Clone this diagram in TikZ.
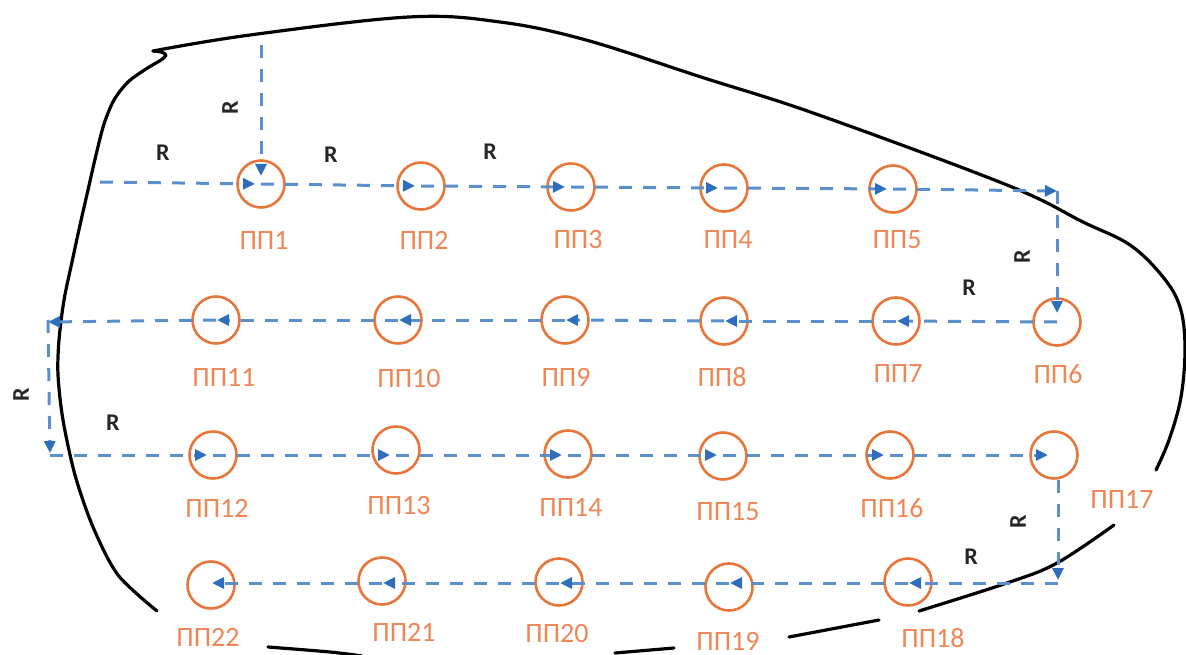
\documentclass[tikz,border=0pt]{standalone}
\usepackage{fontspec}
\setmainfont{Carlito}
\usetikzlibrary{arrows.meta}
\definecolor{pporange}{HTML}{E8763A}
\definecolor{pptext}{HTML}{EE8656}
\definecolor{routeblue}{HTML}{5A8FCB}
\definecolor{routetip}{HTML}{2F6EBD}
\begin{document}
\begin{tikzpicture}[x=1pt,y=-1pt,
  pp/.style={circle,draw=pporange,line width=2.6pt,minimum size=47pt,inner sep=0pt},
  pplabel/.style={text=pptext,font=\fontsize{28}{30}\selectfont,inner sep=0pt},
  rlabel/.style={text=black!85,font=\bfseries\fontsize{24}{26}\selectfont,inner sep=0pt},
  routeline/.style={draw=routeblue,line width=3pt,dash pattern=on 13pt off 11pt,
    -{Triangle[length=12pt,width=11pt,color=routetip,fill=routetip]}},
  towardR/.style={routeline,shorten >=6pt},
  towardL/.style={routeline,shorten >=1pt},
  outline/.style={line width=3.2pt,line cap=round,line join=round}
]
\useasboundingbox (0,0) rectangle (1186,655);

% field boundary
\draw[outline] plot[smooth,tension=0.5] coordinates {(157,611) (118,575) (93,527) (75,475) (63,420) (58,375) (59,340) (64,300) (72,262) (80,225) (88,190) (96,155) (104,124) (114,100) (128,82) (146,69) (161,60) (166,55) (161,52) (153,51)};
\draw[outline] plot[smooth,tension=0.6] coordinates {(153,51) (250,35) (409,17) (500,22) (586,40) (701,77) (816,114) (1007,185) (1083,222) (1130,245) (1163,277) (1180,307) (1185,347) (1181,397) (1169,440) (1156,470)};
\draw[outline] plot[smooth,tension=0.6] coordinates {(1114,525) (1057,563) (1007,583) (919,611)};
\draw[outline] (879,620) -- (789,637);
\draw[outline] (674,648) -- (615,653);
\draw[outline,black!55] (510,658) -- (462,659);
\draw[outline] plot[smooth] coordinates {(362,656) (330,652) (268,647)};

% sampling points
\node[pp] (p1) at (261,184) {};
\node[pp] (p2) at (421,186) {};
\node[pp] (p3) at (571,187) {};
\node[pp] (p4) at (724,188) {};
\node[pp] (p5) at (893,189) {};
\node[pp] (p6) at (1057,322) {};
\node[pp] (p7) at (896,321) {};
\node[pp] (p8) at (724,321) {};
\node[pp] (p9) at (565,320) {};
\node[pp] (p10) at (398,320) {};
\node[pp] (p11) at (216,320) {};
\node[pp] (p12) at (213,455) {};
\node[pp] (p13) at (396,450) {};
\node[pp] (p14) at (568,454) {};
\node[pp] (p15) at (723,456) {};
\node[pp] (p16) at (890,455) {};
\node[pp] (p17) at (1054,455) {};
\node[pp] (p18) at (908,582) {};
\node[pp] (p19) at (729,587) {};
\node[pp] (p20) at (559,582) {};
\node[pp] (p21) at (382,581) {};
\node[pp] (p22) at (211,585) {};

\node[pplabel] (l1) at (264,240) {ПП1};
\node[pplabel] (l2) at (424,240) {ПП2};
\node[pplabel] (l3) at (578,240) {ПП3};
\node[pplabel] (l4) at (728,240) {ПП4};
\node[pplabel] (l5) at (897,240) {ПП5};
\node[pplabel] (l6) at (1058,374) {ПП6};
\node[pplabel] (l7) at (898,374) {ПП7};
\node[pplabel] (l8) at (722,377) {ПП8};
\node[pplabel] (l9) at (566,377) {ПП9};
\node[pplabel] (l10) at (409,379) {ПП10};
\node[pplabel] (l11) at (224,377) {ПП11};
\node[pplabel] (l12) at (217,508) {ПП12};
\node[pplabel] (l13) at (399,506) {ПП13};
\node[pplabel] (l14) at (571,507) {ПП14};
\node[pplabel] (l15) at (728,512) {ПП15};
\node[pplabel] (l16) at (892,508) {ПП16};
\node[pplabel] (l17) at (1122,499) {ПП17};
\node[pplabel] (l18) at (933,638) {ПП18};
\node[pplabel] (l19) at (728,641) {ПП19};
\node[pplabel] (l20) at (557,634) {ПП20};
\node[pplabel] (l21) at (404,632) {ПП21};
\node[pplabel] (l22) at (208,637) {ПП22};

% turning points of the route
\coordinate (entry) at (261,45);
\coordinate (start) at (100,182);
\coordinate (c1) at (1057,191);
\coordinate (c2) at (48,322);
\coordinate (c3) at (50,455);
\coordinate (c4) at (1058,583);

% route
\draw[routeline,shorten >=8pt] (entry) -- (p1.center);
\draw[towardR] (start) -- (p1.center);
\draw[towardR] (p1.center) -- (p2.center);
\draw[towardR] (p2.center) -- (p3.center);
\draw[towardR] (p3.center) -- (p4.center);
\draw[towardR] (p4.center) -- (p5.center);
\draw[routeline] (p5.center) -- (c1);
\draw[routeline,shorten >=9pt] (c1) -- (p6.center);
\draw[towardL] (p6.center) -- (p7.center);
\draw[towardL] (p7.center) -- (p8.center);
\draw[towardL] (p8.center) -- (p9.center);
\draw[towardL] (p9.center) -- (p10.center);
\draw[towardL] (p10.center) -- (p11.center);
\draw[routeline] (p11.center) -- (c2);
\draw[routeline,shorten >=2pt] (c2 |- p11.center) -- (c3);
\draw[towardR] (c3) -- (p12.center |- c3);
\draw[towardR] (p12.center |- c3) -- (p13.center |- c3);
\draw[towardR] (p13.center |- c3) -- (p14.center |- c3);
\draw[towardR] (p14.center |- c3) -- (p15.center |- c3);
\draw[towardR] (p15.center |- c3) -- (p16.center |- c3);
\draw[towardR] (p16.center |- c3) -- (p17.center |- c3);
\draw[routeline,shorten >=3pt] (p17.south -| c4) -- (c4);
\draw[towardL] (c4) -- (p18.center |- c4);
\draw[towardL] (p18.center |- c4) -- (p19.center |- c4);
\draw[towardL] (p19.center |- c4) -- (p20.center |- c4);
\draw[towardL] (p20.center |- c4) -- (p21.center |- c4);
\draw[towardL] (p21.center |- c4) -- (p22.center |- c4);

% distance marks
\node[rlabel] (r1) at (163,153) {R};
\node[rlabel] (r2) at (331,155) {R};
\node[rlabel] (r3) at (490,152) {R};
\node[rlabel,rotate=90] (r4) at (230,108) {R};
\node[rlabel,rotate=90] (r5) at (1022,257) {R};
\node[rlabel] (r6) at (969,288) {R};
\node[rlabel,rotate=90] (r7) at (21,395) {R};
\node[rlabel] (r8) at (113,423) {R};
\node[rlabel,rotate=90] (r9) at (1018,522) {R};
\node[rlabel] (r10) at (971,557) {R};
\end{tikzpicture}
\end{document}
